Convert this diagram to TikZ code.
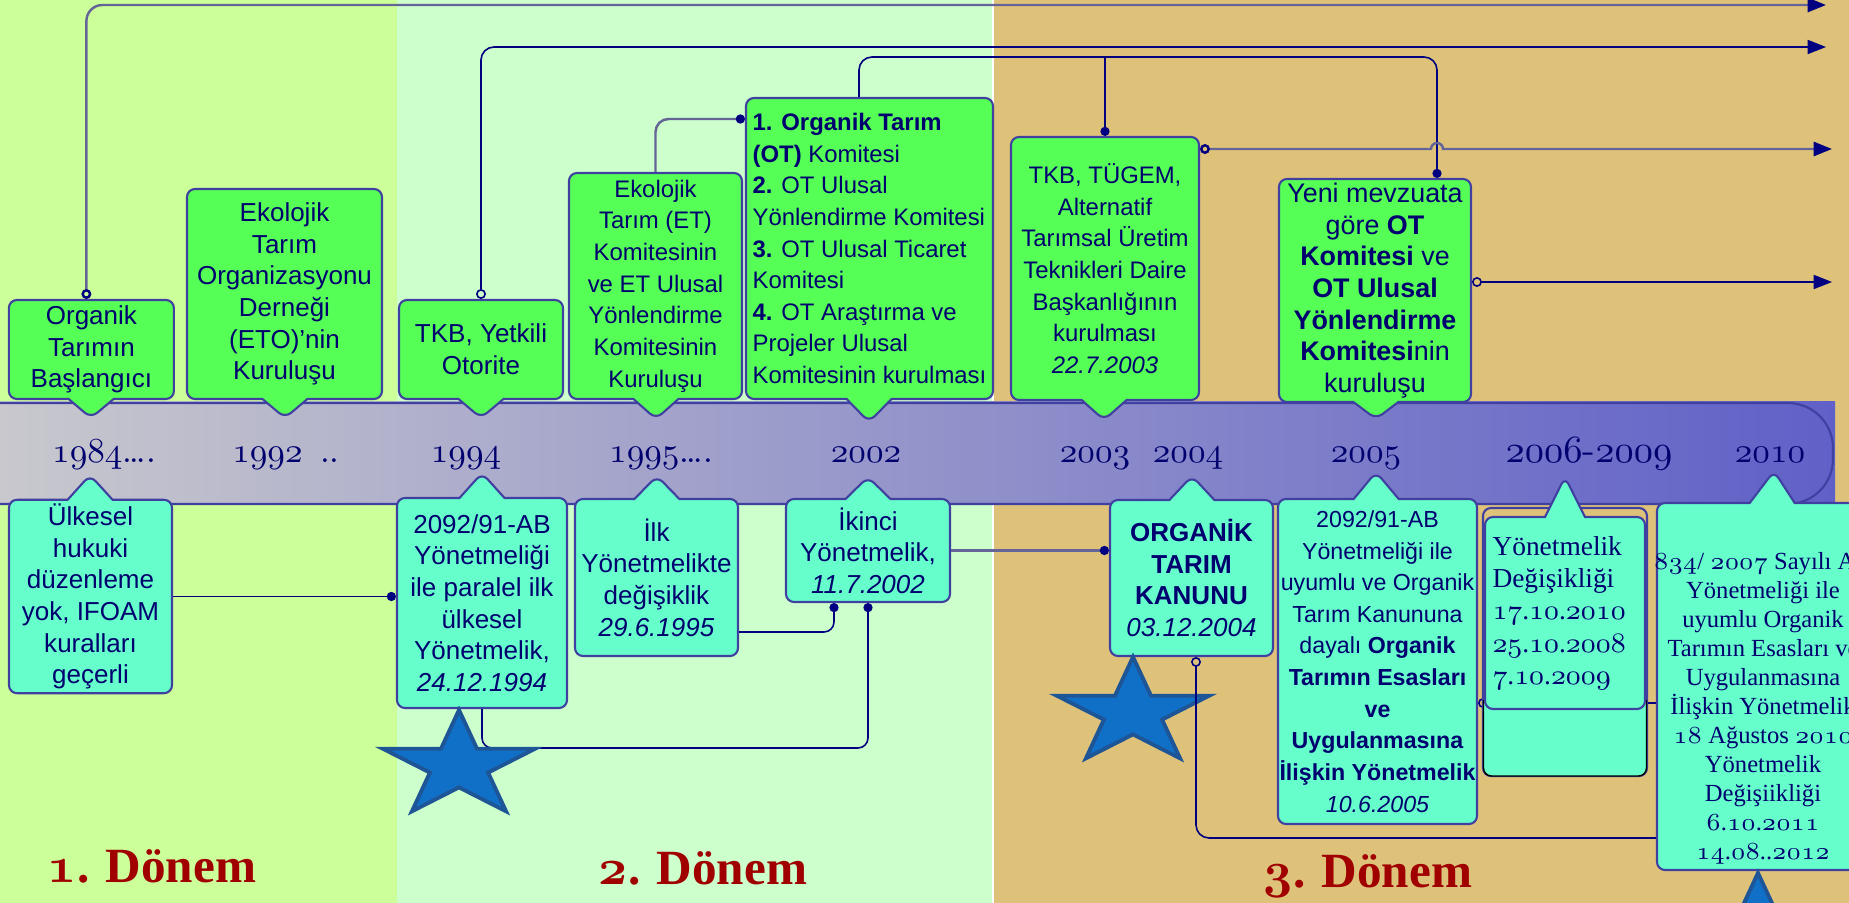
\documentclass[tikz,border=0pt]{standalone}
\usepackage{fontspec}
\setsansfont{Liberation Sans}
\newfontfamily\boxserif{Liberation Serif}
\usetikzlibrary{shapes.callouts}
\usetikzlibrary{arrows.meta}

\definecolor{bgone}{RGB}{204,255,153}
\definecolor{bgtwo}{RGB}{204,255,204}
\definecolor{bgthree}{RGB}{222,194,122}
\definecolor{upgreen}{RGB}{85,255,85}
\definecolor{lowmint}{RGB}{102,255,204}
\definecolor{boxline}{RGB}{64,64,160}
\definecolor{txtnavy}{RGB}{0,0,110}
\definecolor{connavy}{RGB}{0,0,128}
\definecolor{railgray}{RGB}{100,100,150}
\definecolor{barleft}{RGB}{200,200,205}
\definecolor{barright}{RGB}{96,96,200}
\definecolor{dred}{RGB}{160,0,0}
\definecolor{starfill}{RGB}{16,112,200}
\definecolor{starline}{RGB}{30,85,150}

\newcommand{\osn}[1]{{\usefont{OML}{lmm}{m}{it}#1}}
\newcommand{\osnb}[1]{{\usefont{OML}{cmm}{b}{it}#1}}
\newcommand{\bigsans}{\sffamily\fontsize{7.4}{9}\selectfont}
\newcommand{\smallsans}{\sffamily\fontsize{6.8}{9}\selectfont}

\tikzset{dotend/.tip = {Circle[length=2.6pt, color=connavy]}}
\tikzset{ringend/.tip = {Circle[open, length=2.8pt, color=connavy]}}
\tikzset{railtip/.tip = {Triangle[length=5.2pt, width=4pt, color=connavy]}}
\tikzset{ubox/.style = {rectangle callout, rounded corners = 0.8mm, draw = boxline,
                        line width = 0.6pt, fill = upgreen, text = txtnavy,
                        align = center, inner sep = 0.4mm,
                        callout pointer width = 4.5mm, font = \bigsans}}
\tikzset{lbox/.style = {ubox, fill = lowmint}}
\tikzset{conn/.style = {connavy, line width = 0.45pt}}
\tikzset{rail/.style = {railgray, line width = 0.7pt}}
\tikzset{yr/.style = {text = txtnavy, inner sep = 0pt, anchor = base,
                      font = \rmfamily\fontsize{10}{11}\selectfont}}
\tikzset{period/.style = {text = dred, inner sep = 0pt, anchor = base,
                          font = \boxserif\bfseries\fontsize{14}{16}\selectfont}}
\tikzset{bluestar/.style = {fill = starfill, draw = starline, line width = 1.1pt}}

\begin{document}
\begin{tikzpicture}
      \useasboundingbox (0, 0) rectangle (18.49, 9.03);
      \clip (0, 0) rectangle (18.49, 9.03);

      \fill [bgone] (0, 0) rectangle (3.97, 9.03);
      \fill [bgtwo] (3.97, 0) rectangle (9.92, 9.03);
      \fill [white] (9.92, 0) rectangle (9.94, 9.03);
      \fill [bgthree] (9.94, 0) rectangle (18.49, 9.03);

      \shade [left color = barleft, right color = barright] (0, 3.98) rectangle (18.35, 5.01);
      \draw [boxline, line width = 0.6pt, rounded corners = 4.5mm] (0, 5) -- (18.33, 5) -- (18.33, 3.99) -- (0, 3.99);

      \node [ubox, minimum width = 1.65cm, minimum height = 0.99cm, callout absolute pointer = {(0.91, 4.85)}] (u1) at (0.914, 5.535) {Organik\\Tarımın\\Başlangıcı};
      \node [ubox, minimum width = 1.95cm, minimum height = 2.10cm, callout absolute pointer = {(2.85, 4.85)}] (u2) at (2.845, 6.09) {Ekolojik\\Tarım\\Organizasyonu\\Derneği\\(ETO)’nin\\Kuruluşu};
      \node [ubox, minimum width = 1.64cm, minimum height = 0.99cm, callout absolute pointer = {(4.81, 4.85)}] (u3) at (4.81, 5.535) {TKB, Yetkili\\Otorite};
      \node [ubox, font = \smallsans, minimum width = 1.73cm, minimum height = 2.26cm, callout absolute pointer = {(6.56, 4.84)}] (u4) at (6.555, 6.17) {Ekolojik\\Tarım (ET)\\Komitesinin\\ve ET Ulusal\\Yönlendirme\\Komitesinin\\Kuruluşu};
      \node [ubox, font = \smallsans, align = left, minimum width = 2.47cm, minimum height = 3.01cm, callout absolute pointer = {(8.69, 4.81)}] (u5) at (8.695, 6.545) {\textbf{1. Organik Tarım}\\\textbf{(OT)} Komitesi\\\textbf{2.} OT Ulusal\\Yönlendirme Komitesi\\\textbf{3.} OT Ulusal Ticaret\\Komitesi\\\textbf{4.} OT Araştırma ve\\Projeler Ulusal\\Komitesinin kurulması};
      \node [ubox, font = \smallsans, minimum width = 1.88cm, minimum height = 2.63cm, callout absolute pointer = {(11.04, 4.83)}] (u6) at (11.05, 6.345) {TKB, TÜGEM,\\Alternatif\\Tarımsal Üretim\\Teknikleri Daire\\Başkanlığının\\kurulması\\\textit{22.7.2003}};
      \node [ubox, font = \sffamily\fontsize{7.65}{9}\selectfont, minimum width = 1.92cm, minimum height = 2.23cm, callout absolute pointer = {(13.76, 4.84)}] (u7) at (13.75, 6.125) {Yeni mevzuata\\göre \textbf{OT}\\\textbf{Komitesi} ve\\\textbf{OT Ulusal}\\\textbf{Yönlendirme}\\\textbf{Komitesi}nin\\kuruluşu};

      \node [lbox, minimum width = 1.63cm, minimum height = 1.93cm, callout absolute pointer = {(0.90, 4.28)}] (l1) at (0.905, 3.065) {Ülkesel\\hukuki\\düzenleme\\yok, IFOAM\\kuralları\\geçerli};
      \node [lbox, minimum width = 1.70cm, minimum height = 2.10cm, callout absolute pointer = {(4.82, 4.30)}] (l2) at (4.82, 3.00) {2092/91-AB\\Yönetmeliği\\ile paralel ilk\\ülkesel\\Yönetmelik,\\\textit{24.12.1994}};
      \node [lbox, minimum width = 1.63cm, minimum height = 1.57cm, callout absolute pointer = {(6.57, 4.27)}] (l3) at (6.565, 3.255) {İlk\\Yönetmelikte\\değişiklik\\\textit{29.6.1995}};
      \node [lbox, minimum width = 1.64cm, minimum height = 1.03cm, callout absolute pointer = {(8.68, 4.26)}] (l4) at (8.68, 3.525) {İkinci\\Yönetmelik,\\\textit{11.7.2002}};
      \node [lbox, minimum width = 1.63cm, minimum height = 1.56cm, callout absolute pointer = {(11.92, 4.27)}] (l5) at (11.915, 3.25) {\textbf{ORGANİK}\\\textbf{TARIM}\\\textbf{KANUNU}\\\textit{03.12.2004}};
      \node [lbox, font = \sffamily\fontsize{6.6}{9}\selectfont, inner xsep = 0.1mm, minimum width = 1.99cm, minimum height = 3.25cm, callout absolute pointer = {(13.76, 4.31)}] (l6) at (13.775, 2.415) {2092/91-AB\\Yönetmeliği ile\\uyumlu ve Organik\\Tarım Kanununa\\dayalı \textbf{Organik}\\\textbf{Tarımın Esasları}\\\textbf{ve}\\\textbf{Uygulanmasına}\\\textbf{İlişkin Yönetmelik}\\\textit{10.6.2005}};
      \node [lbox, minimum width = 2.10cm, minimum height = 3.67cm, callout absolute pointer = {(17.74, 4.32)}] (l8) at (17.62, 2.165) {};

      \draw [conn, ringend-] ([yshift = -4.15mm]l6.east) -- ([yshift = -1.65mm]l8.west);

      \filldraw [fill = bgthree, draw = boxline, line width = 0.6pt, rounded corners = 0.8mm] (14.83, 1.27) rectangle (16.47, 3.95);
      \filldraw [fill = lowmint, draw = black, line width = 0.4pt, rounded corners = 0.8mm] (14.835, 2.03) -- (14.835, 1.27) -- (16.465, 1.27) -- (16.465, 2.03);
      \node [lbox, font = \boxserif\fontsize{7.8}{9.2}\selectfont, align = left, text width = 1.45cm, callout pointer width = 4mm, minimum width = 1.60cm, minimum height = 1.92cm, callout absolute pointer = {(15.65, 4.26)}] (l7) at (15.65, 2.90) {Yönetmelik\\Değişikliği\\\osn{17}.\osn{10}.\osn{2010}\\\osn{25}.\osn{10}.\osn{2008}\\\osn{7}.\osn{10}.\osn{2009}};
      \node [text = txtnavy, align = center, inner sep = 0pt, font = \boxserif\fontsize{7}{8.25}\selectfont] (l8text) at (17.63, 1.95) {\osn{834}/ \osn{2007} Sayılı AB\\Yönetmeliği ile\\uyumlu Organik\\Tarımın Esasları ve\\Uygulanmasına\\İlişkin Yönetmelik\\\osn{18} Ağustos \osn{2010}\\Yönetmelik\\Değişiikliği\\\osn{6}.\osn{10}.\osn{2011}\\\osn{14}.\osn{08}..\osn{2012}};

      \node [yr] (y1984) at (1.04, 4.40) {\osn{1984}\dots.};
      \node [yr] (y1992) at (2.86, 4.40) {\osn{1992}\enspace..};
      \node [yr] (y1994) at (4.66, 4.40) {\osn{1994}};
      \node [yr] (y1995) at (6.61, 4.40) {\osn{1995}\dots.};
      \node [yr] (y2002) at (8.66, 4.40) {\osn{2002}};
      \node [yr] (y2003) at (10.95, 4.40) {\osn{2003}};
      \node [yr] (y2004) at (11.88, 4.40) {\osn{2004}};
      \node [yr] (y2005) at (13.66, 4.40) {\osn{2005}};
      \node [yr, font = \rmfamily\fontsize{11}{12}\selectfont] (y2006) at (15.89, 4.40) {\osn{2006}-\osn{2009}};
      \node [yr] (y2010) at (17.70, 4.40) {\osn{2010}};

      \coordinate (railA) at (18.26, 8.98);
      \coordinate (railB) at (18.26, 8.56);
      \coordinate (railD) at (18.32, 7.54);
      \coordinate (railE) at (18.32, 6.21);
      \coordinate (ctop) at (14.37, 8.46);

      \draw [rail, ringend-railtip, rounded corners = 1.6mm] ([xshift = -0.5mm]u1.north) |- (railA);
      \draw [conn, ringend-railtip, rounded corners = 1.3mm] (u3.north) |- (railB);
      \draw [conn, -dotend, rounded corners = 1.3mm] ([xshift = -1.05mm]u5.north) |- (ctop) -- ([xshift = 6.2mm]u7.north);
      \draw [conn, -dotend] (u6.north |- ctop) -- (u6.north);
      \draw [rail, ringend-railtip] (u6.east |- railD) -- (14.31, 7.54) arc [start angle = 180, end angle = 0, radius = 0.6mm] -- (railD);
      \draw [conn, ringend-railtip] (u7.east |- railE) -- (railE);
      \draw [rail, -dotend, rounded corners = 1.3mm] (u4.north) |- ([yshift = 12.95mm]u5.west);

      \draw [conn, -dotend] (l1.east) -- (l2.west |- l1.east);
      \draw [conn, -dotend, rounded corners = 1mm] (l2.south) |- (l4.south |- 0,1.55) -- (l4.south);
      \draw [conn, -dotend, rounded corners = 1mm] ([yshift = -5.45mm]l3.east) -| ([xshift = -3.4mm]l4.south);
      \draw [rail, -dotend] (l4.east) -- (l5.west |- l4.east);

      \foreach \sx/\sy in {4.59/1.37, 11.33/1.90, 17.58/-0.26}
        \draw [bluestar, shift = {(\sx, \sy)}, xscale = 1.43] (90:0.56) \foreach \k in {1,...,9} {-- ({90 + 36 * \k}:{0.56 * (1 - 0.618 * mod(\k, 2))})} -- cycle;

      \draw [conn, ringend-, rounded corners = 1.3mm] ([xshift = 0.45mm]l5.south) |- (l8.west |- 0,0.65);

      \node [period] (p1) at (1.52, 0.20) {\osnb{1}. Dönem};
      \node [period] (p2) at (7.03, 0.18) {\osnb{2}. Dönem};
      \node [period] (p3) at (13.68, 0.15) {\osnb{3}. Dönem};
\end{tikzpicture}
\end{document}
